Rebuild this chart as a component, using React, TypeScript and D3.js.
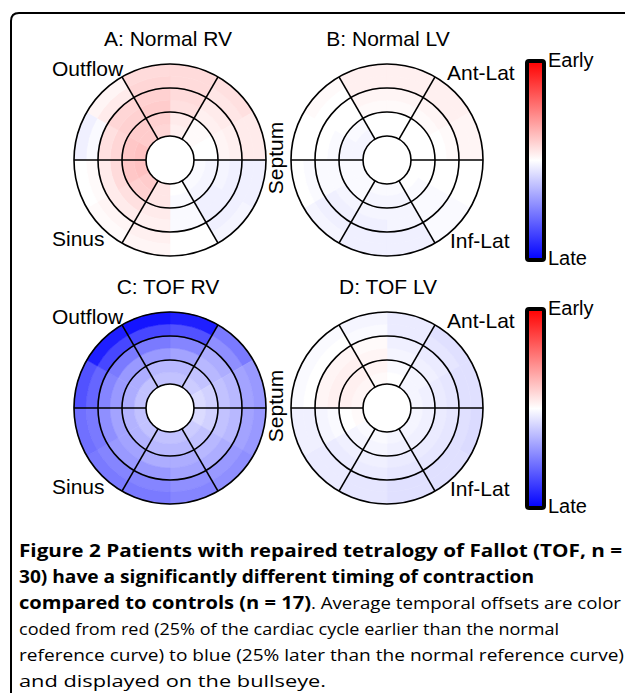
import { useMemo } from 'react'
import * as d3 from 'd3'

// temporal offset per cell, % of cardiac cycle: negative = earlier (red), positive = later (blue)
// rows: 12 sectors of 30deg clockwise from 12 o'clock; columns: 6 radial bands inner -> outer
const normalRV: number[][] = [
  [-1.5, -2, -3, -3.5, -3.5, -3.5],
  [-0.5, -0.5, -1.5, -2, -2.5, -3],
  [0, 0, -1, -1.5, -2, -2],
  [0.5, 1, 1, 1.5, 1.5, 1.5],
  [0.5, 1, 1.5, 1.5, 1.5, 1],
  [0, 0.5, 0.5, 0.5, 0, 0],
  [-2.5, -2.5, -2, -1.5, -1.5, -1],
  [-5, -4.5, -3, -2, -1, -0.5],
  [-6, -5.5, -3.5, -2, -0.5, 0],
  [-6, -5.5, -4, -3, 0.5, 1.5],
  [-5, -5, -4.5, -4, -2, -1],
  [-4, -4.5, -5, -4.5, -4, -3.5],
]

const normalLV: number[][] = [
  [0, 0, -0.5, -1, -1.5, -1.5],
  [0, 0, -0.5, -1, -1.5, -1.5],
  [0, 0, 0, -0.5, -1, -1],
  [0, 0, 0, 0, 0, 0],
  [0, 0.5, 0.5, 0.5, 0.5, 0.5],
  [0.5, 1, 1, 1, 1.5, 1.5],
  [0.5, 1, 1, 1.5, 1.5, 1.5],
  [0.5, 0.5, 1, 1.5, 1.5, 1],
  [0.5, 0.5, 0.5, 0.5, 0.5, 0],
  [1, 1, 0.5, 0, 0, 0],
  [1, 0.5, 0, 0, 0, -0.5],
  [0, 0, -0.5, -1, -1.5, -1.5],
]

const tofRV: number[][] = [
  [6, 7, 9, 12, 17, 22],
  [5, 6, 7, 8, 11, 13],
  [3.5, 4.5, 6, 7, 9, 10],
  [3.5, 4.5, 6, 7, 9, 10],
  [5, 6, 7, 8, 10, 11],
  [6, 7, 8, 9, 11, 12],
  [6, 7, 8, 10, 12, 13],
  [6, 7.5, 9, 10, 12, 13],
  [6, 7.5, 9, 11, 13, 14],
  [6, 8, 10, 12, 15, 17],
  [6, 8, 10, 13, 18, 22],
  [6, 7, 10, 13, 18, 23],
]

const tofLV: number[][] = [
  [0, 0.5, 1, 1.5, 2, 2],
  [1, 1, 1.5, 2, 2.5, 3],
  [1, 1.5, 2, 2.5, 3, 3],
  [1, 1.5, 2, 2.5, 3, 3.5],
  [1, 1.5, 2, 2.5, 3, 3],
  [1, 1.5, 2, 2.5, 3, 3],
  [0.5, 1, 1.5, 2, 2.5, 2.5],
  [0.5, 1, 1.5, 2, 2, 2],
  [-0.5, 0, 0.5, 1, 1.5, 1.5],
  [-1, -1.5, -1.5, -1, 0, 0.5],
  [-1, -1.5, -1.5, -1, 0, 0.5],
  [-0.5, -1, -1, -0.5, 0.5, 1],
]

const offsetDomain = [-25, 0, 25]
const colorRange = ['#ff0000', '#ffffff', '#0000ff']
const ringBounds = [0, 2, 4, 6] // band indices of drawn ring circles
const dividerSectors = [1, 3, 5, 7, 9, 11] // sector starts of segment borders

const captionLines = [
  { bold: 'Figure 2 Patients with repaired tetralogy of Fallot (TOF, n =', rest: '', y: 557, end: 622 },
  { bold: '30) have a significantly different timing of contraction', rest: '', y: 583, end: 534 },
  { bold: 'compared to controls (n = 17)', rest: '. Average temporal offsets are color', y: 609, end: 621, split: 311 },
  { bold: '', rest: 'coded from red (25% of the cardiac cycle earlier than the normal', y: 635, end: 559 },
  { bold: '', rest: 'reference curve) to blue (25% later than the normal reference curve)', y: 661, end: 624 },
  { bold: '', rest: 'and displayed on the bullseye.', y: 687, end: 326 },
]

const labelFont = '"Liberation Sans", Arial, sans-serif'
const captionFont = '"Open Sans", "Noto Sans", sans-serif'

const color = d3.scaleLinear<string>().domain(offsetDomain).range(colorRange).clamp(true)
const radius = d3.scaleLinear().domain([0, 6]).range([24, 96])
const angle = d3.scaleLinear().domain([0, 12]).range([0, 2 * Math.PI])

function Bullseye({ cx, cy, values }: { cx: number; cy: number; values: number[][] }) {
  const arc = d3.arc<{ s: number; b: number }>()
    .innerRadius((d) => radius(d.b))
    .outerRadius((d) => radius(d.b + 1))
    .startAngle((d) => angle(d.s))
    .endAngle((d) => angle(d.s + 1))

  const cells = values.flatMap((row, s) => row.map((v, b) => ({ s, b, v })))

  return (
    <g transform={`translate(${cx},${cy})`}>
      {cells.map((c) => (
        <path key={`${c.s}-${c.b}`} d={arc(c) ?? ''} fill={color(c.v)} stroke={color(c.v)} strokeWidth={0.6} />
      ))}
      {ringBounds.map((b) => (
        <circle key={b} r={radius(b)} fill="none" stroke="#000" strokeWidth={1.6} />
      ))}
      {dividerSectors.map((s) => {
        const a = angle(s)
        const r0 = radius(0)
        const r1 = radius(6)
        return (
          <line
            key={s}
            x1={r0 * Math.sin(a)}
            y1={-r0 * Math.cos(a)}
            x2={r1 * Math.sin(a)}
            y2={-r1 * Math.cos(a)}
            stroke="#000"
            strokeWidth={1.6}
          />
        )
      })}
    </g>
  )
}

function ColorBar({ x, y0, y1, id }: { x: number; y0: number; y1: number; id: string }) {
  const pos = d3.scaleLinear().domain([offsetDomain[0], offsetDomain[2]]).range([0, 100])
  return (
    <g>
      <defs>
        <linearGradient id={id} x1="0" y1="0" x2="0" y2="1">
          {offsetDomain.map((v) => (
            <stop key={v} offset={`${pos(v)}%`} stopColor={color(v)} />
          ))}
        </linearGradient>
      </defs>
      <rect x={x} y={y0} width={17} height={y1 - y0} rx={2} fill={`url(#${id})`} stroke="#000" strokeWidth={4} />
      <text x={x + 21} y={y0 + 6} fontSize={20} fontFamily={labelFont}>Early</text>
      <text x={x + 21} y={y1 + 5} fontSize={20} fontFamily={labelFont}>Late</text>
    </g>
  )
}

export default function App() {
  const panels = useMemo(
    () => [
      { dy: 0, rv: normalRV, lv: normalLV, rvTitle: 'A: Normal RV', lvTitle: 'B: Normal LV', id: 'cbTop' },
      { dy: 248, rv: tofRV, lv: tofLV, rvTitle: 'C: TOF RV', lvTitle: 'D: TOF LV', id: 'cbBottom' },
    ],
    [],
  )

  return (
    <svg width={625} height={693} style={{ position: 'absolute', left: 0, top: 0, background: '#fff' }}>
      <rect width={625} height={693} fill="#fff" />
      <path d="M11,700 L11,21 Q11,13 19,13 L640,13" fill="none" stroke="#000" strokeWidth={2} />

      {panels.map((p) => (
        <g key={p.id} transform={`translate(0,${p.dy})`} fontFamily={labelFont} fontSize={21}>
          <text x={168} y={46} textAnchor="middle">{p.rvTitle}</text>
          <text x={388} y={46} textAnchor="middle">{p.lvTitle}</text>
          <Bullseye cx={170} cy={160} values={p.rv} />
          <Bullseye cx={387} cy={160} values={p.lv} />
          <text x={52} y={76}>Outflow</text>
          <text x={52} y={246}>Sinus</text>
          <text transform="translate(283,158) rotate(-90)" textAnchor="middle">Septum</text>
          <text x={447} y={80}>Ant-Lat</text>
          <text x={450} y={248}>Inf-Lat</text>
          <ColorBar x={527} y0={61} y1={260} id={p.id} />
        </g>
      ))}

      <g fontFamily={captionFont} fontSize={17} fill="#000">
        {captionLines.map((l, i) => {
          const split = l.split ?? (l.bold ? l.end : 19)
          return (
            <g key={i}>
              {l.bold && (
                <text x={19} y={l.y} fontWeight="bold" textLength={split - 19} lengthAdjust="spacingAndGlyphs">
                  {l.bold}
                </text>
              )}
              {l.rest && (
                <text x={split} y={l.y} textLength={l.end - split} lengthAdjust="spacingAndGlyphs">
                  {l.rest}
                </text>
              )}
            </g>
          )
        })}
      </g>
    </svg>
  )
}
